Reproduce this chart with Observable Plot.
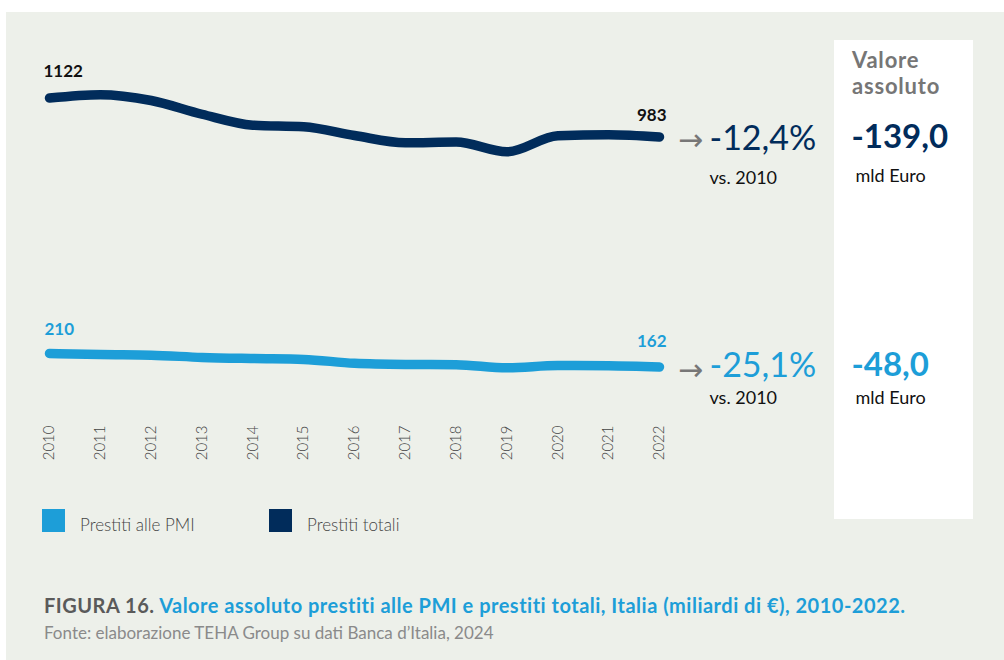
<!DOCTYPE html>
<html>
<head>
<meta charset="utf-8">
<script src="https://cdn.jsdelivr.net/npm/d3@7"></script>
<script src="https://cdn.jsdelivr.net/npm/@observablehq/plot@0.6"></script>
<style>
  html, body { margin: 0; padding: 0; background: #ffffff; }
  body { font-family: Lato, "Open Sans", "Noto Sans", sans-serif; }
  #wrap { position: relative; width: 1004px; height: 660px; overflow: hidden; }
  #panel { position: absolute; left: 6px; top: 12px; width: 998px; height: 648px; background: #edf0ea; }
  #box { position: absolute; left: 834px; top: 40px; width: 139px; height: 479px; background: #ffffff; }
  .boxtitle { position: absolute; left: 852px; font-weight: 700; font-size: 22px; letter-spacing: 0.8px; line-height: 22px; color: #767676; white-space: nowrap; }
  #chart { position: absolute; left: 0; top: 0; }
  .leg { position: absolute; top: 509px; width: 23px; height: 23px; }
  .legtxt { position: absolute; top: 514px; font-size: 17px; line-height: 22px; font-weight: 300; color: #444; }
  #cap { position: absolute; left: 44px; top: 594px; font-size: 20px; letter-spacing: 0.5px; line-height: 22px; font-weight: 700; color: #1d9ed8; white-space: nowrap; }
  #cap span { color: #5a5a5a; }
  #src { position: absolute; left: 44px; top: 623px; font-size: 17px; line-height: 20px; font-weight: 400; color: #8a8a8a; white-space: nowrap; }
</style>
</head>
<body>
<div id="wrap">
  <div id="panel"></div>
  <div id="box"></div>
  <div class="boxtitle" style="top:49px">Valore</div>
  <div class="boxtitle" style="top:75px">assoluto</div>
  <div id="chart"></div>
  <div class="leg" style="left:42px;background:#1d9ed8"></div>
  <div class="legtxt" style="left:80px">Prestiti alle PMI</div>
  <div class="leg" style="left:269px;background:#012c5b"></div>
  <div class="legtxt" style="left:307px">Prestiti totali</div>
  <div id="cap"><span>FIGURA 16.</span> Valore assoluto prestiti alle PMI e prestiti totali, Italia (miliardi di €), 2010-2022.</div>
  <div id="src">Fonte: elaborazione TEHA Group su dati Banca d’Italia, 2024</div>
</div>
<script>
const years = [2010, 2011, 2012, 2013, 2014, 2015, 2016, 2017, 2018, 2019, 2020, 2021, 2022];
const prestitiTotali = [1122, 1134, 1113, 1064, 1025, 1019, 988, 962, 965, 930, 987, 991, 983];
const prestitiPMI = [210, 206, 204, 196, 192, 189, 175, 171, 170, 159, 167, 166, 162];
const seriesNames = ["Prestiti alle PMI", "Prestiti totali"];
const seriesColors = ["#1d9ed8", "#012c5b"];
const pctChange = ["-25,1%", "-12,4%"];
const absChange = ["-48,0", "-139,0"];

const rows = [];
years.forEach((y, i) => {
  rows.push({year: y, value: prestitiPMI[i], series: seriesNames[0]});
  rows.push({year: y, value: prestitiTotali[i], series: seriesNames[1]});
});

// per-series annotation styling (offsets in px)
const ann = [
  {first: {dx: -5, dy: -24, fill: "#1d9ed8"}, last: {dy: -25, fill: "#1d9ed8"}, pctDy: -1, vsDy: 31, absDy: -2, mldDy: 31},
  {first: {dx: -6, dy: -26, fill: "#111111"}, last: {dy: -21, fill: "#111111"}, pctDy: 2, vsDy: 41, absDy: 0, mldDy: 39}
];

const marks = [
  Plot.axisX({ticks: years, tickFormat: d => String(d), tickRotate: -90, tickSize: 0, tickPadding: 3,
              fontSize: 15, fontWeight: 300, fill: "#444", stroke: null, label: null}),
  Plot.line(rows, {x: "year", y: "value", z: "series", stroke: "series", strokeWidth: 9.5, curve: "monotone-x",
                   strokeLinecap: "round", strokeLinejoin: "round"})
];

seriesNames.forEach((s, k) => {
  const d = rows.filter(r => r.series === s);
  const last = d[d.length - 1];
  const a = ann[k];
  marks.push(
    Plot.text([d[0]], {x: "year", y: "value", text: r => String(r.value), textAnchor: "start",
      dx: a.first.dx, dy: a.first.dy, fill: a.first.fill, fontWeight: 700, fontSize: 17}),
    Plot.text([last], {x: "year", y: "value", text: r => String(r.value), textAnchor: "end",
      dx: 7, dy: a.last.dy, fill: a.last.fill, fontWeight: 700, fontSize: 17}),
    Plot.text([last], {x: "year", y: "value", text: () => "→", textAnchor: "middle",
      dx: 31, dy: 3, fill: "#777", fontSize: 30, fontFamily: "DejaVu Sans"}),
    Plot.text([last], {x: "year", y: "value", text: () => pctChange[k], textAnchor: "start",
      dx: 50, dy: a.pctDy, fill: seriesColors[k], fontSize: 34, fontWeight: 400}),
    Plot.text([last], {x: "year", y: "value", text: () => "vs. 2010", textAnchor: "start",
      dx: 50, dy: a.vsDy, fill: "#111", fontSize: 18, fontWeight: 400}),
    Plot.text([last], {x: "year", y: "value", text: () => absChange[k], textAnchor: "start",
      dx: 192, dy: a.absDy, fill: seriesColors[k], fontSize: 33, fontWeight: 700}),
    Plot.text([last], {x: "year", y: "value", text: () => "mld Euro", textAnchor: "start",
      dx: 196, dy: a.mldDy, fill: "#111", fontSize: 18, fontWeight: 400})
  );
});

const chart = Plot.plot({
  width: 1004,
  height: 480,
  marginLeft: 49,
  marginRight: 345,
  marginTop: 0,
  marginBottom: 58,
  x: {domain: [2010, 2022], axis: null, label: null},
  y: {domain: [210, 1122], range: [353, 97.5], axis: null},
  color: {domain: seriesNames, range: seriesColors},
  style: {background: "transparent", fontFamily: "Lato, 'Open Sans', sans-serif", overflow: "visible"},
  marks
});
document.getElementById("chart").appendChild(chart);
</script>
</body>
</html>
